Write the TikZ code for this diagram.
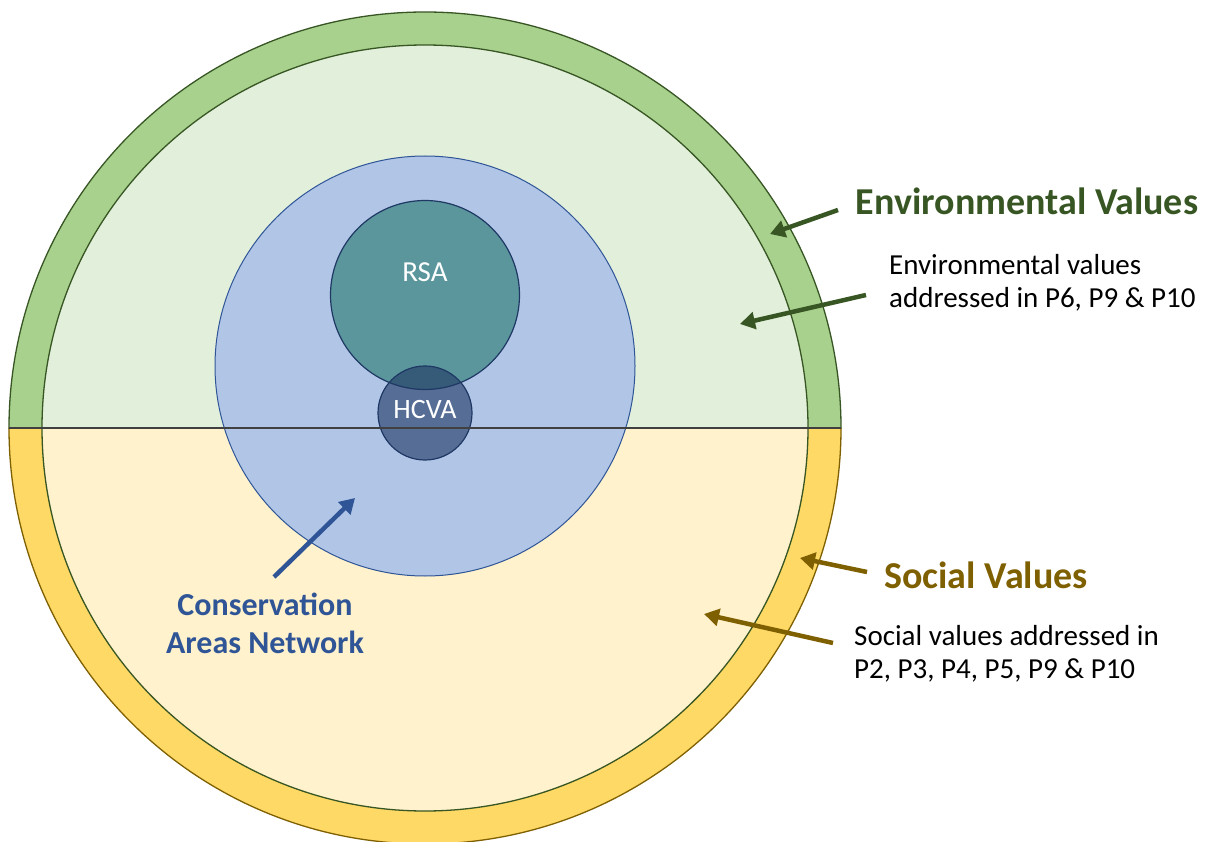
\documentclass[tikz,border=0pt]{standalone}
\usepackage{fontspec}
\setmainfont{Carlito}
\usetikzlibrary{arrows.meta}
\definecolor{ringgreen}{HTML}{A9D18E}
\definecolor{lightgreen}{HTML}{E2EFDA}
\definecolor{ringyellow}{HTML}{FFD966}
\definecolor{lightyellow}{HTML}{FFF2CC}
\definecolor{darkgreen}{HTML}{375623}
\definecolor{darkgold}{HTML}{7F6000}
\definecolor{cblue}{HTML}{B1C6E7}
\definecolor{cbluedark}{HTML}{2F5597}
\definecolor{teal}{HTML}{5A969C}
\definecolor{navy}{HTML}{1F3864}
\definecolor{midline}{HTML}{404040}
\tikzset{
  bigarrow/.style={line width=4.5pt,-{Triangle[length=15pt,width=17pt]}},
  title/.style={font=\fontsize{38}{44}\selectfont\bfseries, anchor=base, inner sep=0pt},
  body/.style={font=\fontsize{29}{33}\selectfont, anchor=base west, inner sep=0pt},
  inlabel/.style={text=white, font=\fontsize{29}{33}\selectfont, anchor=base, inner sep=0pt}
}
\begin{document}
\begin{tikzpicture}[x=1pt,y=-1pt]
\useasboundingbox (0,0) rectangle (1210,842);
\coordinate (c) at (425,428);
% halves
\begin{scope}
  \clip (0,0) rectangle (1210,428);
  \fill[ringgreen] (c) circle[radius=416];
  \fill[lightgreen] (c) circle[radius=383];
  \draw[darkgreen, line width=1.3pt] (c) circle[radius=416];
\end{scope}
\begin{scope}
  \clip (0,428) rectangle (1210,900);
  \fill[ringyellow] (c) circle[radius=416];
  \fill[lightyellow] (c) circle[radius=383];
  \draw[darkgold, line width=1.3pt] (c) circle[radius=416];
\end{scope}
\draw[darkgreen, line width=1.3pt] (c) circle[radius=383];
% conservation areas
\node[circle, draw=cbluedark, fill=cblue, line width=1pt, minimum size=420pt, inner sep=0pt] (can) at (425,366) {};
\node[circle, draw=navy, fill=teal, line width=1.2pt, minimum size=189pt, inner sep=0pt] (rsa) at (425,295) {};
\node[circle, draw=navy, fill=navy, fill opacity=0.62, line width=1.2pt, minimum size=94pt, inner sep=0pt] (hcva) at (425,413) {};
\node[inlabel] (rsaT) at (425,282) {RSA};
\node[inlabel, font=\fontsize{28}{33}\selectfont] (hcvaT) at (425,418) {HCVA};
% midline
\coordinate (lineL) at (9,428);
\coordinate (lineR) at (841,428);
\draw[midline, line width=1.6pt] (lineL) -- (lineR);
% labels
\node[title, text=darkgreen] (envT) at (1027,215) {Environmental Values};
\node[body] (envB1) at (889,275) {Environmental values};
\node[body] (envB2) at (889,308) {addressed in P6, P9 \& P10};
\node[title, text=darkgold] (socT) at (986,588) {Social Values};
\node[body] (socB1) at (854,645) {Social values addressed in};
\node[body] (socB2) at (854,678) {P2, P3, P4, P5, P9 \& P10};
\node[title, text=cbluedark, font=\fontsize{32}{38}\selectfont\bfseries] (canT1) at (265,615) {Conservation};
\node[title, text=cbluedark, font=\fontsize{32}{38}\selectfont\bfseries] (canT2) at (265,653) {Areas Network};
% arrows
\coordinate (a1s) at (838,210); \coordinate (a1e) at (770,234);
\coordinate (a2s) at (866,295); \coordinate (a2e) at (740,324);
\coordinate (a3s) at (867,572); \coordinate (a3e) at (800,558);
\coordinate (a4s) at (833,643); \coordinate (a4e) at (704,614);
\coordinate (a5s) at (274,577); \coordinate (a5e) at (355,498);
\draw[bigarrow, darkgreen] (a1s) -- (a1e);
\draw[bigarrow, darkgreen] (a2s) -- (a2e);
\draw[bigarrow, darkgold] (a3s) -- (a3e);
\draw[bigarrow, darkgold] (a4s) -- (a4e);
\draw[bigarrow, cbluedark] (a5s) -- (a5e);
\end{tikzpicture}
\end{document}
